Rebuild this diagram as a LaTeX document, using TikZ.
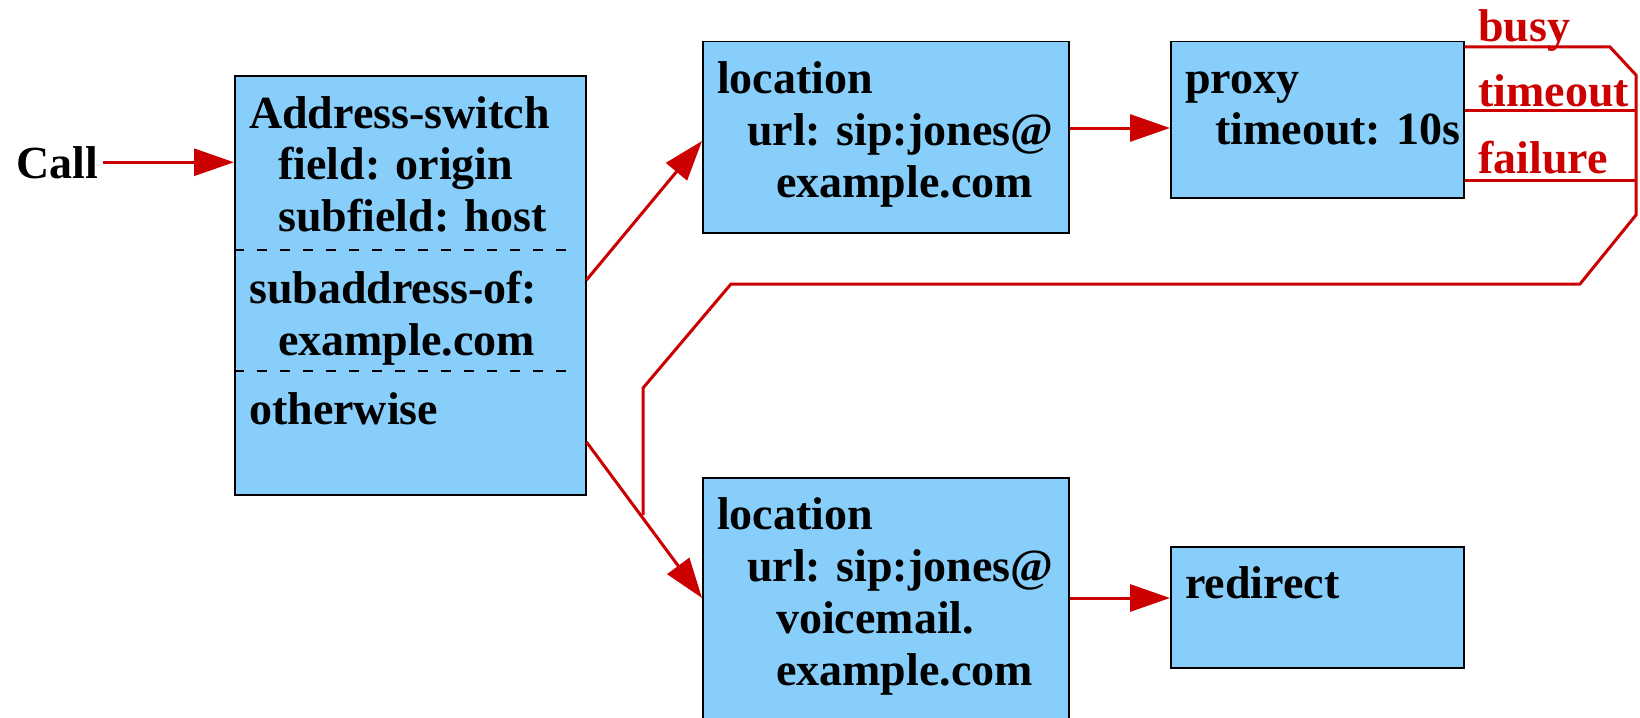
\documentclass[tikz,border=0pt]{standalone}
\usepackage{fontspec}
\setmainfont{Liberation Serif}
\usetikzlibrary{arrows.meta}
\definecolor{boxblue}{RGB}{135,206,250}
\definecolor{linered}{RGB}{204,0,0}
\tikzset{
  box/.style={draw=black, line width=1.5pt, fill=boxblue, anchor=north west, inner sep=0pt},
  txt/.style={anchor=base west, inner sep=0pt, font=\fontsize{46pt}{52pt}\selectfont\bfseries},
  lbl/.style={txt, text=linered},
  arr/.style={draw=linered, line width=3pt, -{Triangle[length=40pt,width=27pt]}},
  fb/.style={draw=linered, line width=3pt, line join=miter},
  sepline/.style={draw=black, line width=1.1pt, dash pattern=on 10pt off 13pt}
}
\begin{document}
\begin{tikzpicture}[x=1pt,y=-1pt]
\useasboundingbox (0,0) rectangle (1640,717);
\clip (0,0) rectangle (1640,717);
\fill[white] (0,0) rectangle (1640,717);

% boxes
\node[box, minimum width=351pt, minimum height=419pt] (sw) at (234,75) {};
\node[box, minimum width=366pt, minimum height=191pt] (loc1) at (702,41) {};
\node[box, minimum width=293pt, minimum height=156pt] (proxy) at (1170,41) {};
\node[box, minimum width=366pt, minimum height=280pt] (loc2) at (702,477) {};
\node[box, minimum width=293pt, minimum height=121pt] (redir) at (1170,546) {};

% separators
\draw[sepline] ([yshift=-175pt]sw.north west) -- ([yshift=-175pt,xshift=-12pt]sw.north east);
\draw[sepline] ([yshift=-296pt]sw.north west) -- ([yshift=-296pt,xshift=-12pt]sw.north east);

% texts
\node[txt] (call) at (16,178) {Call};
\node[txt] (sw1) at (249,128) {Address-switch};
\node[txt] (sw2) at (278,179) {field: origin};
\node[txt] (sw3) at (278,231) {subfield: host};
\node[txt] (sw4) at (249,303) {subaddress-of:};
\node[txt] (sw5) at (278,355) {example.com};
\node[txt] (sw6) at (249,424) {otherwise};

\node[txt] (l1a) at (717,93) {location};
\node[txt] (l1b) at (747,145) {url: sip:jones@};
\node[txt] (l1c) at (776,197) {example.com};

\node[txt] (p1) at (1185,93) {proxy};
\node[txt] (p2) at (1215,144) {timeout: 10s};

\node[txt] (l2a) at (717,529) {location};
\node[txt] (l2b) at (747,581) {url: sip:jones@};
\node[txt] (l2c) at (776,633) {voicemail.};
\node[txt] (l2d) at (776,685) {example.com};

\node[txt] (r1) at (1185,598) {redirect};

\node[lbl] (busy) at (1478,42) {busy};
\node[lbl] (tmo) at (1478,106) {timeout};
\node[lbl] (fail) at (1478,173) {failure};

% arrows
\draw[arr] ([xshift=5pt]call.east) -- (call.east -| sw.west);
\draw[arr] ([yshift=-205pt]sw.north east) -- ([yshift=-100pt]loc1.north west);
\draw[arr] ([yshift=-367pt]sw.north east) -- ([yshift=-121pt]loc2.north west);
\draw[arr] ([yshift=-87pt]loc1.north east) -- ([yshift=-87pt]proxy.north west);
\draw[arr] ([yshift=-121pt]loc2.north east) -- ([yshift=-52pt]redir.north west);

% feedback path
\coordinate (fbend) at (643,515);
\draw[fb] ([yshift=-6pt]proxy.north east) -- (1610,47) -- (1636,75) -- (1636,215)
  -- (1580,284) -- (731,284) -- (643,388) -- (fbend);
\draw[fb] ([yshift=-69pt]proxy.north east) -- (1636,110);
\draw[fb] ([yshift=-139pt]proxy.north east) -- (1636,180);
\end{tikzpicture}
\end{document}
